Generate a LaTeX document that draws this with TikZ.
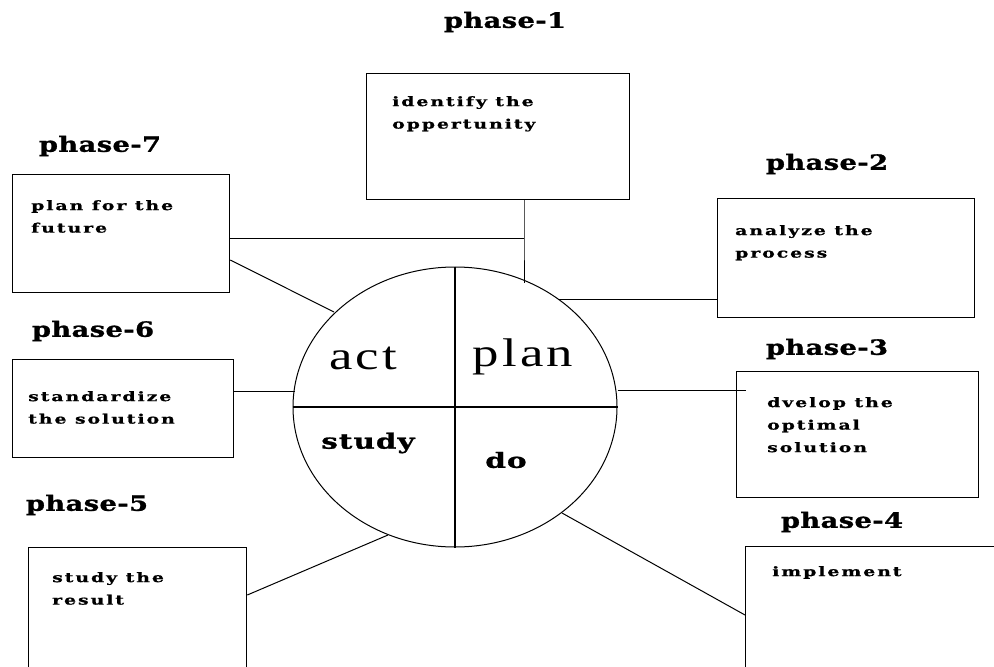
\documentclass[tikz,border=0pt]{standalone}
\usepackage{fontspec}
\usetikzlibrary{shapes.geometric}
\setmainfont{DejaVu Serif}
\newfontfamily\phasefont{DejaVu Serif}[FakeStretch=1.3, LetterSpace=2, FakeBold=1.2]
\newfontfamily\boxfont{DejaVu Serif}[FakeStretch=1.45, LetterSpace=15, FakeBold=0.8]
\newfontfamily\quadfont{Liberation Serif}[FakeStretch=1.32, LetterSpace=8]
\newfontfamily\quadbfont{DejaVu Serif}[FakeStretch=1.4, LetterSpace=5, FakeBold=1.2]
\begin{document}
\begin{tikzpicture}[x=1pt,y=-1pt,
  box/.style={draw, line width=1.3pt, anchor=north west, inner sep=0pt},
  phase/.style={font=\phasefont\bfseries\fontsize{21}{21}\selectfont, inner sep=0pt},
  boxtext/.style={font=\boxfont\bfseries\fontsize{13}{22.5}\selectfont, align=left, anchor=north west, inner sep=0pt},
  quad/.style={font=\quadfont\fontsize{40}{40}\selectfont, inner sep=0pt},
  quadb/.style={font=\quadbfont\bfseries\fontsize{21}{21}\selectfont, inner sep=0pt},
  link/.style={draw, line width=1pt}]
\useasboundingbox[fill=white] (0,0) rectangle (994,667);

% central cycle
\node[draw, ellipse, line width=1pt, minimum width=324pt, minimum height=280pt, inner sep=0pt] (cyc) at (455,407) {};
\draw[line width=1.3pt] (cyc.north) -- (cyc.south);
\draw[line width=1.3pt] (cyc.west) -- (cyc.east);
\node[quad] (act) at (363,358) {act};
\node[quad] (plan) at (523,357) {plan};
\node[quadb] (study) at (368,443) {study};
\node[quadb] (do) at (506,460) {do};

% phase boxes
\node[box, minimum width=263pt, minimum height=126pt] (b1) at (366,73) {};
\node[box, minimum width=257pt, minimum height=119pt] (b2) at (717,198) {};
\node[box, minimum width=242pt, minimum height=126pt] (b3) at (736,371) {};
\node[box, minimum width=300pt, minimum height=200pt] (b4) at (745,546) {};
\node[box, minimum width=218pt, minimum height=200pt] (b5) at (28,547) {};
\node[box, minimum width=221pt, minimum height=98pt] (b6) at (12,359) {};
\node[box, minimum width=217pt, minimum height=118pt] (b7) at (12,174) {};

% phase titles
\node[phase] (p1) at (505,22) {phase-1};
\node[phase] (p2) at (827,164) {phase-2};
\node[phase] (p3) at (827,349) {phase-3};
\node[phase] (p4) at (842,522) {phase-4};
\node[phase] (p5) at (87,505) {phase-5};
\node[phase] (p6) at (93,331) {phase-6};
\node[phase] (p7) at (100,146) {phase-7};

% box contents
\node[boxtext] (t1) at (392,96) {identify the\\oppertunity};
\node[boxtext] (t2) at (735,225) {analyze the\\process};
\node[boxtext] (t3) at (767,397) {dvelop the\\optimal\\solution};
\node[boxtext] (t4) at (772,566) {implement};
\node[boxtext] (t5) at (52,572) {study the\\result};
\node[boxtext] (t6) at (28,391) {standardize\\the solution};
\node[boxtext] (t7) at (31,200) {plan for the\\future};

% connectors
\coordinate (j1) at (524,238);
\draw[link] (b1.south -| j1) -- (j1) -- (524,283);
\draw[link] (b7.east |- j1) -- (j1);
\draw[link] (558,299) -- (b2.west |- 558,299);
\draw[link] (cyc.east |- 0,390) -- ([xshift=10pt]b3.west |- 0,390);
\draw[link] (562,513) -- (b4.west |- 0,615);
\draw[link] (388,535) -- (b5.east |- 0,595);
\draw[link] (b6.east |- 0,391) -- (295,391);
\draw[link] (b7.east |- 0,260) -- (334,312);
\end{tikzpicture}
\end{document}
